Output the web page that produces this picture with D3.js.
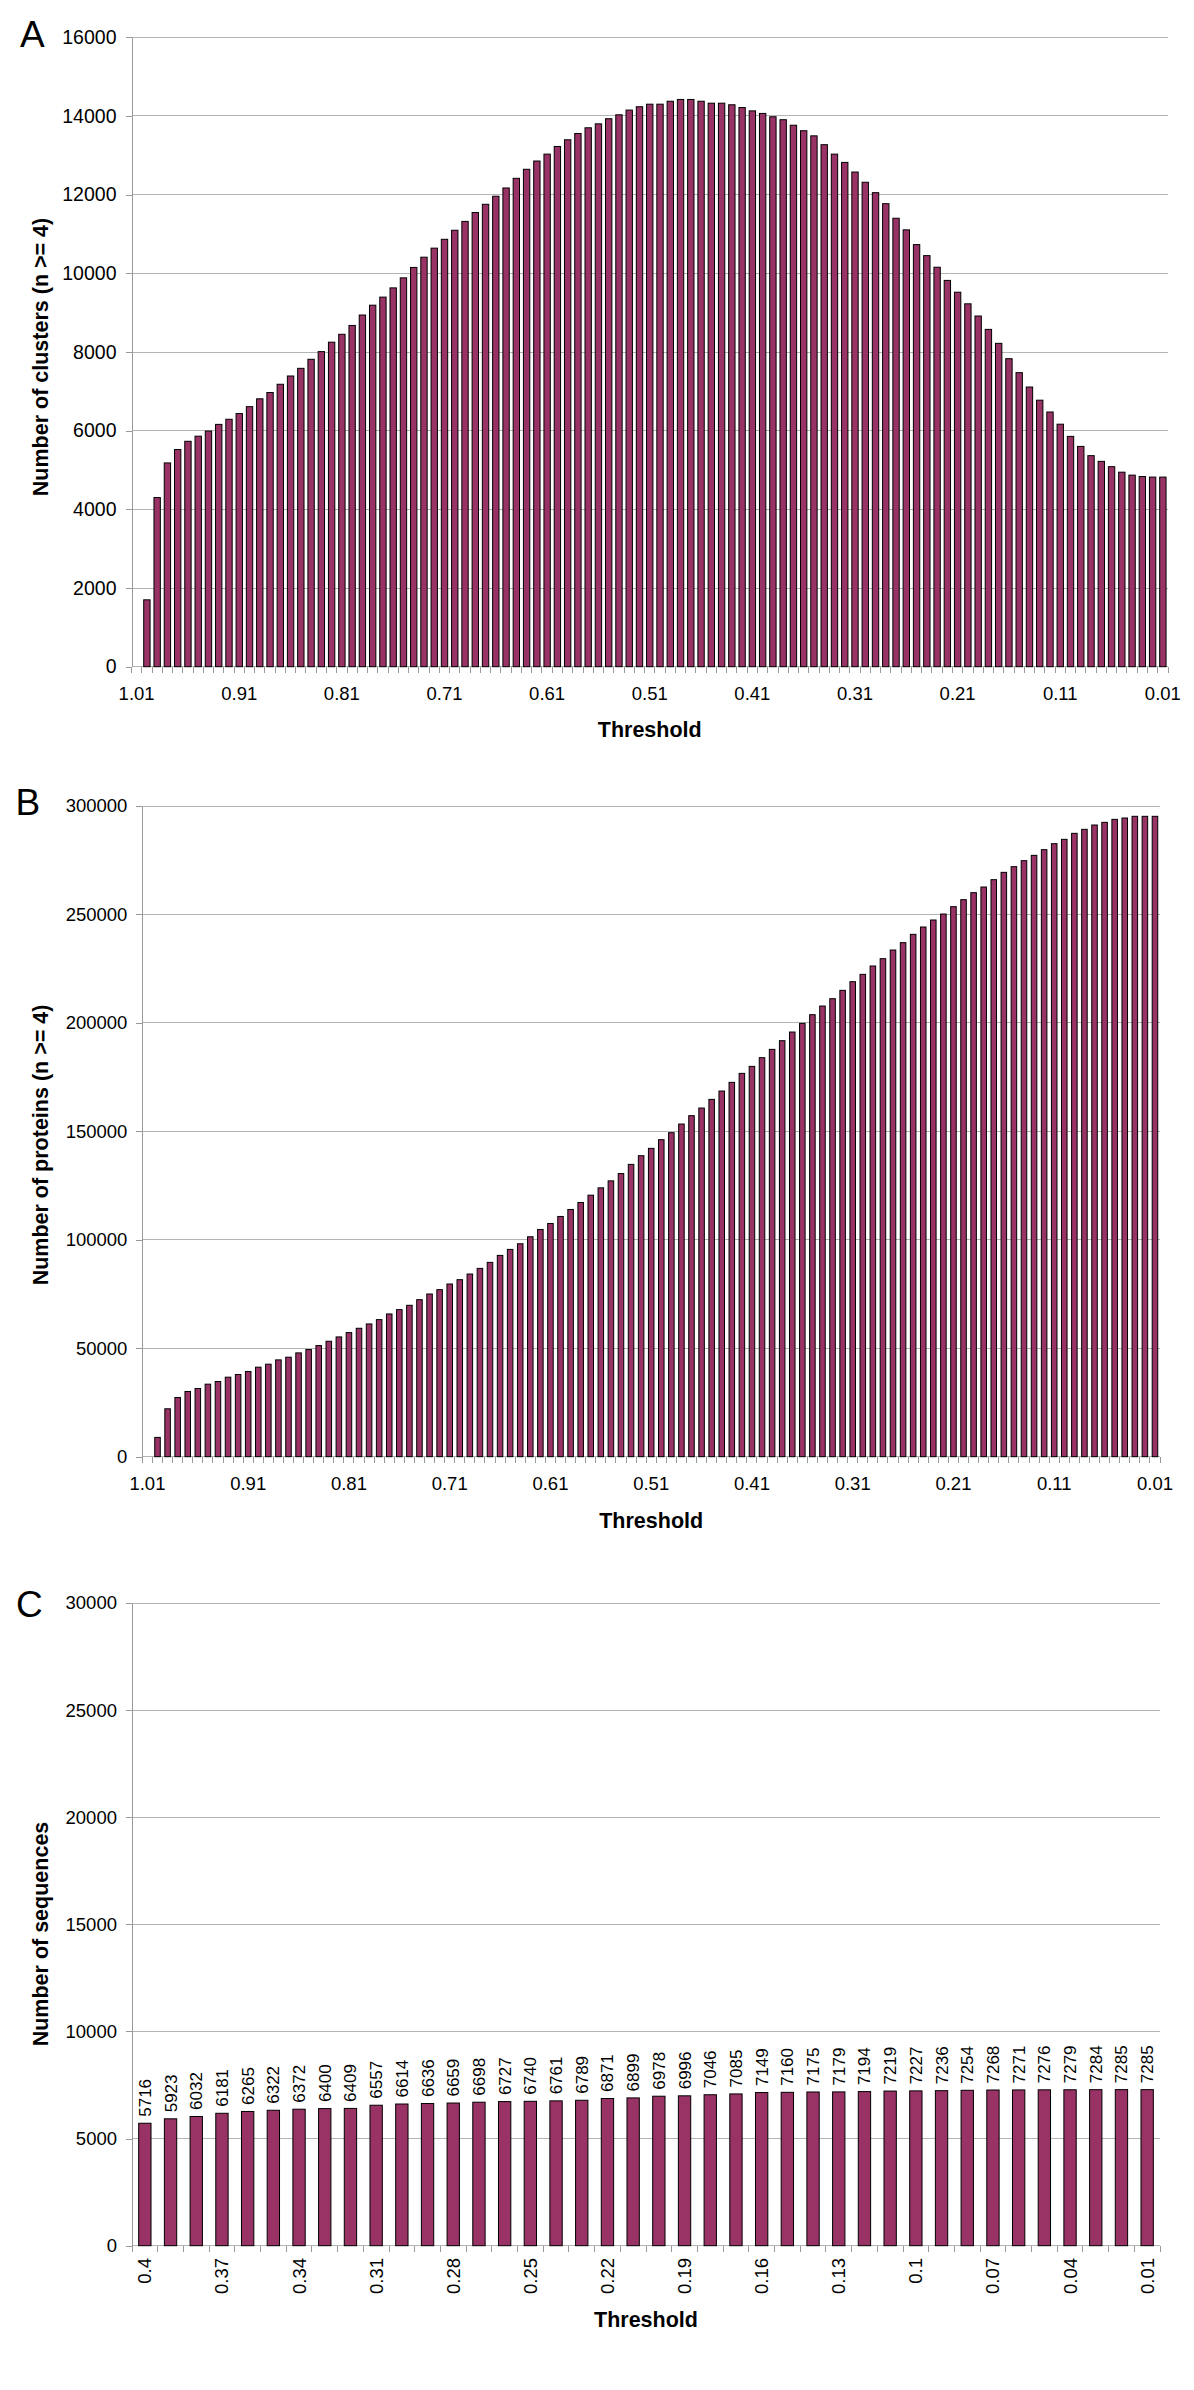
<!DOCTYPE html>
<html>
<head>
<meta charset="utf-8">
<script src="https://cdn.jsdelivr.net/npm/d3@7"></script>
<style>
  body { margin: 0; background: #fff; }
  svg { display: block; font-family: "Liberation Sans", Arial, sans-serif; }
</style>
</head>
<body>
<svg id="chart" width="1194" height="2390"></svg>
<script>
// thresholds used by panels A and B (1.01 down to 0.01)
const thresholds = [
  1.01, 1, 0.99, 0.98, 0.97, 0.96, 0.95, 0.94, 0.93, 0.92,
  0.91, 0.9, 0.89, 0.88, 0.87, 0.86, 0.85, 0.84, 0.83, 0.82,
  0.81, 0.8, 0.79, 0.78, 0.77, 0.76, 0.75, 0.74, 0.73, 0.72,
  0.71, 0.7, 0.69, 0.68, 0.67, 0.66, 0.65, 0.64, 0.63, 0.62,
  0.61, 0.6, 0.59, 0.58, 0.57, 0.56, 0.55, 0.54, 0.53, 0.52,
  0.51, 0.5, 0.49, 0.48, 0.47, 0.46, 0.45, 0.44, 0.43, 0.42,
  0.41, 0.4, 0.39, 0.38, 0.37, 0.36, 0.35, 0.34, 0.33, 0.32,
  0.31, 0.3, 0.29, 0.28, 0.27, 0.26, 0.25, 0.24, 0.23, 0.22,
  0.21, 0.2, 0.19, 0.18, 0.17, 0.16, 0.15, 0.14, 0.13, 0.12,
  0.11, 0.1, 0.09, 0.08, 0.07, 0.06, 0.05, 0.04, 0.03, 0.02,
  0.01
];
const thresholdLabels = [1.01, 0.91, 0.81, 0.71, 0.61, 0.51, 0.41, 0.31, 0.21, 0.11, 0.01];

// A: number of clusters (n >= 4)
const clusters = [
  0, 1700, 4300, 5180, 5520, 5730, 5860, 5990, 6160, 6290,
  6435, 6610, 6810, 6970, 7180, 7390, 7585, 7815, 8010, 8250,
  8450, 8675, 8940, 9190, 9395, 9630, 9885, 10150, 10410, 10640,
  10865, 11095, 11320, 11545, 11755, 11960, 12170, 12415, 12645, 12855,
  13030, 13225, 13395, 13555, 13700, 13800, 13930, 14030, 14150, 14235,
  14300, 14300, 14375, 14420, 14420, 14375, 14325, 14325, 14285, 14215,
  14130, 14065, 13980, 13905, 13765, 13625, 13495, 13270, 13030, 12820,
  12575, 12315, 12050, 11770, 11400, 11105, 10730, 10450, 10155, 9820,
  9520, 9225, 8915, 8575, 8220, 7830, 7475, 7110, 6775, 6475,
  6165, 5855, 5600, 5365, 5220, 5085, 4945, 4870, 4835, 4820,
  4820
];

// B: number of proteins (n >= 4)
const proteins = [
  0, 8900, 22090, 27300, 30070, 31450, 33440, 34670, 36660, 37890,
  39270, 41270, 42650, 44640, 45870, 47860, 49400, 51240, 53230, 55220,
  57220, 59210, 61210, 63200, 65810, 67800, 69800, 72400, 75010, 77010,
  79620, 81610, 84220, 86820, 89590, 92810, 95570, 98180, 101400, 104770,
  107530, 110760, 113980, 117200, 120570, 123950, 127170, 130540, 134770, 138770,
  142150, 146150, 149380, 153370, 157220, 160750, 164740, 168590, 172580, 176730,
  179960, 183960, 187800, 191800, 195790, 199790, 203790, 207780, 211160, 215010,
  219000, 222380, 226230, 229610, 233600, 236990, 240830, 244210, 247440, 250200,
  253590, 256810, 260040, 262650, 266030, 269410, 272030, 274790, 277250, 279870,
  282630, 284630, 287400, 289240, 291240, 292470, 293850, 294470, 295240, 295240,
  295240
];

// C: number of sequences
const seqThresholds = [
  0.4, 0.39, 0.38, 0.37, 0.36, 0.35, 0.34, 0.33, 0.32, 0.31,
  0.3, 0.29, 0.28, 0.27, 0.26, 0.25, 0.24, 0.23, 0.22, 0.21,
  0.2, 0.19, 0.18, 0.17, 0.16, 0.15, 0.14, 0.13, 0.12, 0.11,
  0.1, 0.09, 0.08, 0.07, 0.06, 0.05, 0.04, 0.03, 0.02, 0.01
];
const seqLabels = [0.4, 0.37, 0.34, 0.31, 0.28, 0.25, 0.22, 0.19, 0.16, 0.13, 0.1, 0.07, 0.04, 0.01];
const sequences = [
  5716, 5923, 6032, 6181, 6265, 6322, 6372, 6400, 6409, 6557,
  6614, 6636, 6659, 6698, 6727, 6740, 6761, 6789, 6871, 6899,
  6978, 6996, 7046, 7085, 7149, 7160, 7175, 7179, 7194, 7219,
  7227, 7236, 7254, 7268, 7271, 7276, 7279, 7284, 7285, 7285
];

const svg = d3.select("#chart");
const barFill = "#993366";
const gridColor = "#b4b4b4";
const axisColor = "#999";
const fontFam = '"Liberation Sans", Arial, sans-serif';

function drawPanel(o) {
  const g = svg.append("g");

  const x = d3.scaleBand()
    .domain(o.categories)
    .range([o.left, o.right])
    .paddingInner(o.pad)
    .paddingOuter(o.pad / 2);
  const y = d3.scaleLinear().domain([0, o.yMax]).range([o.bottom, o.top]);
  const step = x.step();

  // gridlines
  g.selectAll("line.grid")
    .data(y.ticks(o.yTicks))
    .join("line")
    .attr("x1", o.left).attr("x2", o.right)
    .attr("y1", d => y(d)).attr("y2", d => y(d))
    .attr("stroke", gridColor)
    .attr("shape-rendering", "crispEdges");

  // y axis
  g.append("g")
    .attr("transform", `translate(${o.left},0)`)
    .call(d3.axisLeft(y).ticks(o.yTicks).tickSize(6).tickPadding(9).tickSizeOuter(0).tickFormat(d3.format("d")))
    .call(a => {
      a.attr("font-family", fontFam).attr("font-size", o.yFont);
      a.selectAll("line, path").attr("stroke", axisColor).attr("shape-rendering", "crispEdges");
      a.selectAll("text").attr("fill", "#000");
    });

  // category boundary ticks on the x axis
  const bounds = o.categories.map(c => x(c) - step * o.pad / 2).concat([o.right]);
  g.selectAll("line.xtick")
    .data(bounds)
    .join("line")
    .attr("x1", d => d).attr("x2", d => d)
    .attr("y1", o.bottom).attr("y2", o.bottom + 6)
    .attr("stroke", axisColor)
    .attr("shape-rendering", "crispEdges");

  // bars
  const rows = o.values.map((v, i) => ({ c: o.categories[i], v })).filter(d => d.v > 0);
  g.selectAll("rect")
    .data(rows)
    .join("rect")
    .attr("x", d => x(d.c))
    .attr("width", x.bandwidth())
    .attr("y", d => y(d.v))
    .attr("height", d => y(0) - y(d.v))
    .attr("fill", barFill)
    .attr("stroke", "#000")
    .attr("stroke-width", 1);

  const cx = d => x(d) + x.bandwidth() / 2;

  // x tick labels
  if (o.rotateLabels) {
    g.selectAll("text.xl")
      .data(o.tickLabels)
      .join("text")
      .attr("transform", d => `translate(${cx(d)},${o.xLabelY}) rotate(-90)`)
      .attr("dy", "0.35em")
      .attr("text-anchor", "end")
      .attr("font-size", o.xFont)
      .text(d => String(d));
  } else {
    g.selectAll("text.xl")
      .data(o.tickLabels)
      .join("text")
      .attr("x", cx)
      .attr("y", o.xLabelY)
      .attr("text-anchor", "middle")
      .attr("font-size", o.xFont)
      .text(d => String(d));
  }

  // value labels
  if (o.valueLabels) {
    g.selectAll("text.vl")
      .data(rows)
      .join("text")
      .attr("transform", d => `translate(${cx(d.c)},${y(d.v) - 6.5}) rotate(-90)`)
      .attr("dy", "0.35em")
      .attr("text-anchor", "start")
      .attr("font-size", 17)
      .text(d => d.v);
  }

  // axis titles
  g.append("text")
    .attr("x", (o.left + o.right) / 2)
    .attr("y", o.threshY)
    .attr("text-anchor", "middle")
    .attr("font-weight", "bold")
    .attr("font-size", 21.5)
    .text("Threshold");

  g.append("text")
    .attr("transform", `translate(48,${o.titleCY}) rotate(-90)`)
    .attr("text-anchor", "middle")
    .attr("font-weight", "bold")
    .attr("font-size", 21.5)
    .text(o.yTitle);

  // panel letter
  g.append("text")
    .attr("x", o.letterX)
    .attr("y", o.letterY)
    .attr("font-size", 37)
    .text(o.letter);
}

drawPanel({
  letter: "A", letterX: 20, letterY: 47,
  categories: thresholds, values: clusters, tickLabels: thresholdLabels,
  left: 131.5, right: 1168, top: 37.3, bottom: 666.7,
  yMax: 16000, yTicks: 8, yFont: 19.5, xFont: 18.5,
  pad: 0.38, xLabelY: 700, threshY: 737, titleCY: 357,
  yTitle: "Number of clusters (n >= 4)"
});

drawPanel({
  letter: "B", letterX: 15.5, letterY: 815,
  categories: thresholds, values: proteins, tickLabels: thresholdLabels,
  left: 142.4, right: 1160, top: 806, bottom: 1456.7,
  yMax: 300000, yTicks: 6, yFont: 18.5, xFont: 18.5,
  pad: 0.45, xLabelY: 1490, threshY: 1528, titleCY: 1145,
  yTitle: "Number of proteins (n >= 4)"
});

drawPanel({
  letter: "C", letterX: 16, letterY: 1617,
  categories: seqThresholds, values: sequences, tickLabels: seqLabels,
  left: 132, right: 1160, top: 1603, bottom: 2245.7,
  yMax: 30000, yTicks: 6, yFont: 18.5, xFont: 18.5,
  pad: 0.52, rotateLabels: true, valueLabels: true,
  xLabelY: 2258, threshY: 2327, titleCY: 1934,
  yTitle: "Number of sequences"
});
</script>
</body>
</html>
